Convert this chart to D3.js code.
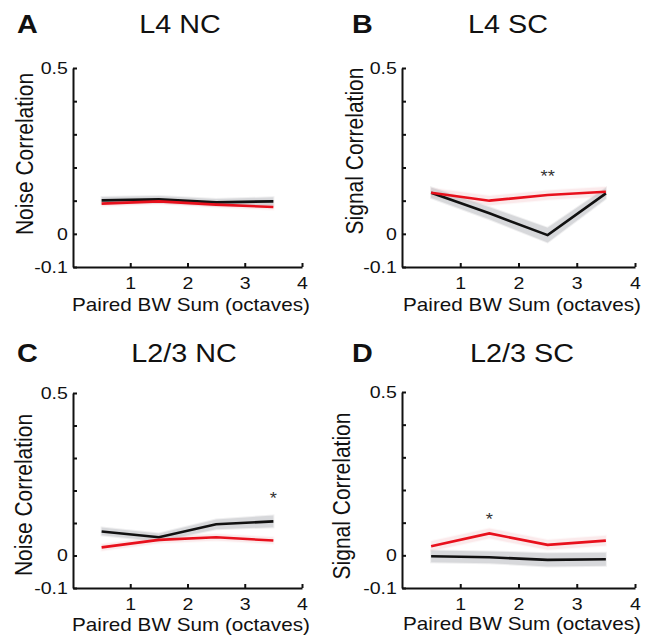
<!DOCTYPE html>
<html>
<head>
<meta charset="UTF-8">
<script src="https://d3js.org/d3.v7.min.js"></script>
</head>
<body>
<div id="chart"></div>
<script>
// data
var bwSum = [0.5, 1.5, 2.5, 3.5];
var xTicks = [1, 2, 3, 4];
var yTicks = [-0.1, 0, 0.1, 0.2, 0.3, 0.4, 0.5];
var yTickLabels = ["-0.1", "0", "", "", "", "", "0.5"];
var panelLetters = ["A", "B", "C", "D"];
var panelTitles = ["L4 NC", "L4 SC", "L2/3 NC", "L2/3 SC"];
var yLabels = ["Noise Correlation", "Signal Correlation", "Noise Correlation", "Signal Correlation"];
var xLabel = "Paired BW Sum (octaves)";

var l4ncBlack = [0.101, 0.104, 0.095, 0.098];
var l4ncRed   = [0.091, 0.098, 0.088, 0.081];
var l4scBlack = [0.124, 0.062, -0.004, 0.122];
var l4scRed   = [0.124, 0.100, 0.117, 0.127];
var l23ncBlack = [0.074, 0.056, 0.096, 0.105];
var l23ncRed   = [0.025, 0.048, 0.056, 0.046];
var l23scBlack = [-0.003, -0.006, -0.014, -0.012];
var l23scRed   = [0.028, 0.067, 0.032, 0.045];

var l4ncBlackSem = [0.010, 0.010, 0.010, 0.012];
var l4ncRedSem   = [0.008, 0.008, 0.008, 0.008];
var l4scBlackSem = [0.016, 0.018, 0.022, 0.016];
var l4scRedSem   = [0.014, 0.014, 0.014, 0.014];
var l23ncBlackSem = [0.012, 0.012, 0.015, 0.018];
var l23ncRedSem   = [0.010, 0.010, 0.010, 0.010];
var l23scBlackSem = [0.018, 0.018, 0.020, 0.020];
var l23scRedSem   = [0.015, 0.015, 0.015, 0.015];

var blackSeries = [l4ncBlack, l4scBlack, l23ncBlack, l23scBlack];
var redSeries = [l4ncRed, l4scRed, l23ncRed, l23scRed];
var blackSems = [l4ncBlackSem, l4scBlackSem, l23ncBlackSem, l23scBlackSem];
var redSems = [l4ncRedSem, l4scRedSem, l23ncRedSem, l23scRedSem];

var starText = ["", "**", "*", "*"];
var starX = [0, 2.5, 3.5, 1.5];
var starY = [0, 0.183, 0.186, 0.12];

// layout of the four panels (page coordinates)
var layout = [
  {x:[73,302], y:[267,68], letter:[17,33], title:[180,33], yl:[33,154], xl:[191,311]},
  {x:[402,635], y:[267,68], letter:[352,33], title:[508,33], yl:[363,151], xl:[522,311]},
  {x:[73,302], y:[588,393], letter:[17,362], title:[184,362], yl:[32,495], xl:[191,631]},
  {x:[402,635], y:[588,392], letter:[352,362], title:[522,362], yl:[350,496], xl:[522,630]}
];

var width = 659, height = 641;
var stretch = 1.15;
var font = "Liberation Sans, Arial, Helvetica, sans-serif";

var svg = d3.select("#chart").append("svg")
  .attr("width", width)
  .attr("height", height)
  .style("position", "absolute").style("left", "0px").style("top", "0px")
  .style("background", "#fff");

function label(g, x, y, txt, size, anchor, weight) {
  return g.append("text")
    .attr("transform", "translate(" + x + "," + y + ") scale(" + stretch + ",1)")
    .attr("text-anchor", anchor)
    .attr("font-family", font)
    .attr("font-size", size)
    .attr("font-weight", weight || "normal")
    .attr("fill", "#111")
    .text(txt);
}

layout.forEach(function(p, i) {
  var g = svg.append("g");
  var xScale = d3.scaleLinear().domain([0, 4]).range(p.x);
  var yScale = d3.scaleLinear().domain([-0.1, 0.5]).range(p.y);

  var band = function(mean, sem) {
    return d3.area()
      .x(function(d, j) { return xScale(bwSum[j]); })
      .y0(function(d, j) { return yScale(mean[j] - sem[j]); })
      .y1(function(d, j) { return yScale(mean[j] + sem[j]); })(mean);
  };
  var line = d3.line()
    .x(function(d, j) { return xScale(bwSum[j]); })
    .y(function(d) { return yScale(d); });

  // axes first, MATLAB style inward ticks
  var yAxis = d3.axisLeft(yScale).tickValues(yTicks).tickSize(-4).tickSizeOuter(0)
    .tickPadding(4.5)
    .tickFormat(function(d, j) { return yTickLabels[j]; });
  var xAxis = d3.axisBottom(xScale).tickValues(xTicks).tickSize(-4).tickSizeOuter(0)
    .tickPadding(9.5)
    .tickFormat(d3.format("d"));

  var ya = g.append("g")
    .attr("transform", "translate(" + xScale(0) + ",0)").call(yAxis);
  var xa = g.append("g")
    .attr("transform", "translate(0," + yScale(-0.1) + ")").call(xAxis);
  [ya, xa].forEach(function(a) {
    a.attr("font-family", font).attr("font-size", 17);
    a.selectAll("path, line").attr("stroke", "#111").attr("stroke-width", 2);
    a.selectAll("text").attr("fill", "#111")
      .attr("transform", "scale(" + stretch + ",1)");
  });

  // shaded error bands
  g.append("path").attr("d", band(redSeries[i], redSems[i]))
    .attr("fill", "#f4c4c8").attr("opacity", 0.35)
    .attr("stroke", "#f4c4c8").attr("stroke-width", 2).attr("stroke-opacity", 0.3);
  g.append("path").attr("d", band(blackSeries[i], blackSems[i]))
    .attr("fill", "#b8babe").attr("opacity", 0.55)
    .attr("stroke", "#b8babe").attr("stroke-width", 2).attr("stroke-opacity", 0.4);

  g.append("path").attr("d", line(blackSeries[i]))
    .attr("fill", "none").attr("stroke", "#111").attr("stroke-width", 2.6);
  g.append("path").attr("d", line(redSeries[i]))
    .attr("fill", "none").attr("stroke", "#e8101c").attr("stroke-width", 2.6);

  // titles and labels
  label(g, p.letter[0], p.letter[1], panelLetters[i], 25, "start", "bold");
  label(g, p.title[0], p.title[1], panelTitles[i], 25, "middle");
  label(g, p.xl[0], p.xl[1], xLabel, 18, "middle");
  g.append("text")
    .attr("transform", "translate(" + p.yl[0] + "," + p.yl[1] + ") rotate(-90) scale(1," + stretch + ")")
    .attr("text-anchor", "middle")
    .attr("font-family", font)
    .attr("font-size", 21)
    .attr("fill", "#111")
    .text(yLabels[i]);

  if (starText[i]) {
    label(g, xScale(starX[i]), yScale(starY[i]) + 9, starText[i], 16, "middle")
      .attr("fill", "#333");
  }
});
</script>
</body>
</html>
